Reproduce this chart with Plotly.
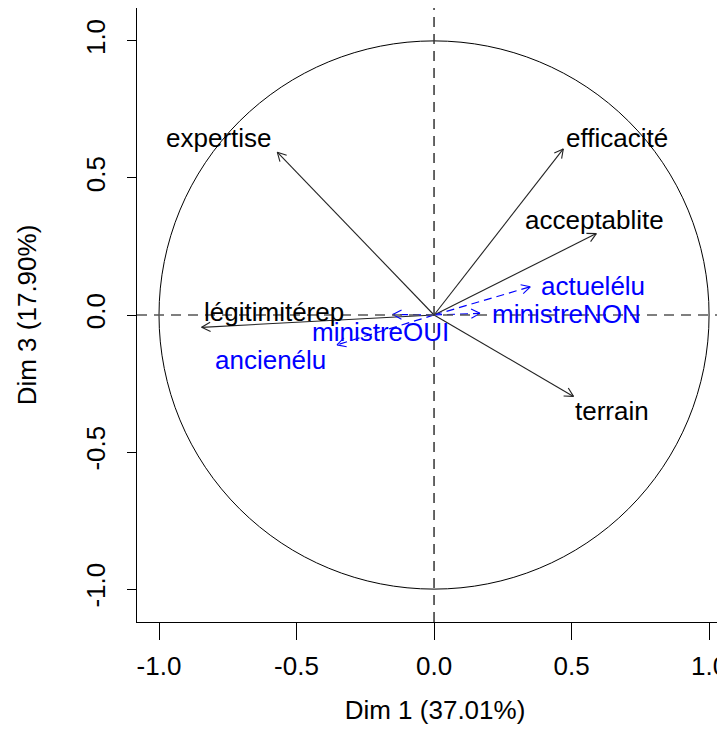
import math
import plotly.graph_objects as go

# Active variables (Dim 1, Dim 3 coordinates)
active_names = ["expertise", "efficacité", "acceptablite", "légitimitérep", "terrain"]
active_x = [-0.57, 0.47, 0.59, -0.845, 0.507]
active_y = [0.594, 0.606, 0.297, -0.045, -0.297]

# Supplementary variables
supp_names = ["actuelélu", "ministreNON", "ministreOUI", "ancienélu"]
supp_x = [0.35, 0.167, -0.15, -0.353]
supp_y = [0.103, 0.006, 0.002, -0.109]

# Label anchor positions (data units)
active_lab_x = [-0.782, 0.665, 0.585, -0.582, 0.647]
active_lab_y = [0.647, 0.647, 0.345, 0.011, -0.349]
supp_lab_x = [0.578, 0.48, -0.193, -0.593]
supp_lab_y = [0.105, 0.004, -0.062, -0.164]

tick_vals = [-1.0, -0.5, 0.0, 0.5, 1.0]
tick_text = ["-1.0", "-0.5", "0.0", "0.5", "1.0"]

FONT = "Liberation Sans, Arial, sans-serif"
FS = 26
BLUE = "#0000FF"
HEAD_LEN = 0.036
HEAD_ANG = math.radians(28)


def head_path(x, y):
    ang = math.atan2(y, x)
    xs, ys = [], []
    for s in (1, -1):
        a = ang + math.pi + s * HEAD_ANG
        xs += [x + HEAD_LEN * math.cos(a), x, None]
        ys += [y + HEAD_LEN * math.sin(a), y, None]
    return xs, ys


fig = go.Figure()

# unit circle
fig.add_shape(type="circle", xref="x", yref="y", x0=-1, y0=-1, x1=1, y1=1,
              line=dict(color="black", width=1))
# dashed axes
fig.add_shape(type="line", xref="paper", yref="y", x0=0, x1=1, y0=0, y1=0,
              line=dict(color="#555555", width=1.5, dash="10px,7px"))
fig.add_shape(type="line", xref="x", yref="paper", x0=0, x1=0, y0=0, y1=1,
              line=dict(color="#333333", width=1.5, dash="10px,7px"))

# active arrows (solid)
for n, x, y in zip(active_names, active_x, active_y):
    hx, hy = head_path(x, y)
    fig.add_trace(go.Scatter(x=[0, x, None] + hx, y=[0, y, None] + hy, mode="lines",
                             line=dict(color="#222222", width=1.1),
                             showlegend=False, hoverinfo="skip", name=n))

# supplementary arrows (dashed shafts)
for n, x, y in zip(supp_names, supp_x, supp_y):
    fig.add_trace(go.Scatter(x=[0, x], y=[0, y], mode="lines",
                             line=dict(color=BLUE, width=1.2, dash="8px,5px"),
                             showlegend=False, hoverinfo="skip", name=n))
    hx, hy = head_path(x, y)
    fig.add_trace(go.Scatter(x=hx, y=hy, mode="lines",
                             line=dict(color=BLUE, width=1.1),
                             showlegend=False, hoverinfo="skip", name=n))

# labels
for n, x, y in zip(active_names, active_lab_x, active_lab_y):
    fig.add_annotation(x=x, y=y, xref="x", yref="y", text=n, showarrow=False,
                       font=dict(family=FONT, size=FS, color="black"))
for n, x, y in zip(supp_names, supp_lab_x, supp_lab_y):
    fig.add_annotation(x=x, y=y, xref="x", yref="y", text=n, showarrow=False,
                       font=dict(family=FONT, size=FS, color=BLUE))

fig.update_layout(
    width=725, height=750,
    margin=dict(l=129, r=0, t=0, b=136),
    plot_bgcolor="white", paper_bgcolor="white",
    font=dict(family=FONT, size=FS, color="black"),
    showlegend=False,
    xaxis=dict(range=[-1.08, 1.087], tickvals=tick_vals, ticktext=tick_text,
               ticks="outside", ticklen=17, tickcolor="black", tickwidth=1,
               showline=True, linecolor="black", linewidth=1, mirror=True,
               showgrid=False, zeroline=False, ticklabelstandoff=4,
               title=dict(text="Dim 1 (37.01%)", standoff=20,
                          font=dict(family=FONT, size=FS))),
    yaxis=dict(range=[-1.12, 1.12], tickvals=tick_vals, ticktext=tick_text,
               tickangle=-90,
               ticks="outside", ticklen=9, tickcolor="black", tickwidth=1,
               showline=True, linecolor="black", linewidth=1, mirror=False,
               showgrid=False, zeroline=False, ticklabelstandoff=12,
               title=dict(text="Dim 3 (17.90%)", standoff=36,
                          font=dict(family=FONT, size=FS))),
)

fig.write_html("out.html")
